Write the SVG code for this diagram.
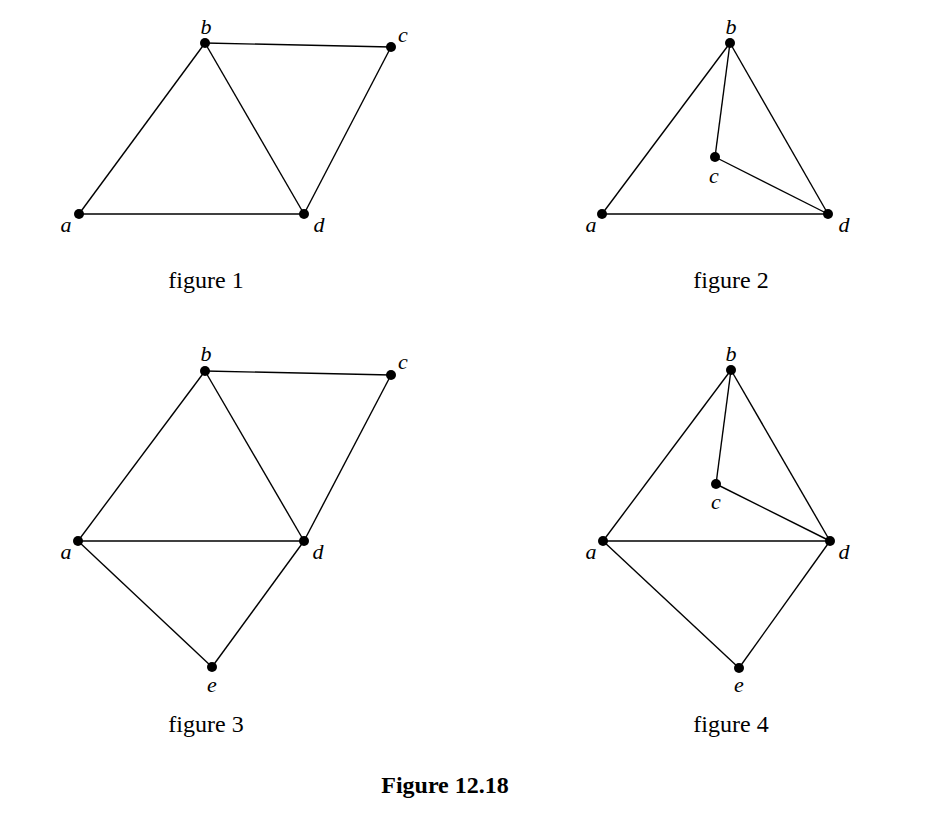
<svg xmlns="http://www.w3.org/2000/svg" width="932" height="824" viewBox="0 0 932 824">
<style>
.e{stroke:#000;stroke-width:1.4;fill:none}
.n{fill:#000}
.l{font-family:"Liberation Serif","Times New Roman",serif;font-style:italic;font-size:22px;fill:#000;text-anchor:middle}
.cap{font-family:"Liberation Serif","Times New Roman",serif;font-size:24px;fill:#000;text-anchor:middle}
.title{font-family:"Liberation Serif","Times New Roman",serif;font-weight:bold;font-size:24px;fill:#000;text-anchor:middle}
</style>
<rect width="932" height="824" fill="#fff"/>
<g id="connectors">
<!-- figure 1 -->
<line class="e" x1="205" y1="43" x2="391" y2="47"/>
<line class="e" x1="205" y1="43" x2="79" y2="214"/>
<line class="e" x1="205" y1="43" x2="304" y2="214"/>
<line class="e" x1="391" y1="47" x2="304" y2="214"/>
<line class="e" x1="79" y1="214" x2="304" y2="214"/>
<!-- figure 2 -->
<line class="e" x1="730" y1="43" x2="602" y2="214"/>
<line class="e" x1="730" y1="43" x2="715" y2="157"/>
<line class="e" x1="730" y1="43" x2="828" y2="214"/>
<line class="e" x1="715" y1="157" x2="828" y2="214"/>
<line class="e" x1="602" y1="214" x2="828" y2="214"/>
<!-- figure 3 -->
<line class="e" x1="205" y1="371" x2="391" y2="375"/>
<line class="e" x1="205" y1="371" x2="78" y2="541"/>
<line class="e" x1="205" y1="371" x2="304" y2="541"/>
<line class="e" x1="391" y1="375" x2="304" y2="541"/>
<line class="e" x1="78" y1="541" x2="304" y2="541"/>
<line class="e" x1="78" y1="541" x2="212" y2="667"/>
<line class="e" x1="304" y1="541" x2="212" y2="667"/>
<!-- figure 4 -->
<line class="e" x1="731" y1="370" x2="603" y2="541"/>
<line class="e" x1="731" y1="370" x2="716" y2="484"/>
<line class="e" x1="731" y1="370" x2="830" y2="541"/>
<line class="e" x1="716" y1="484" x2="830" y2="541"/>
<line class="e" x1="603" y1="541" x2="830" y2="541"/>
<line class="e" x1="603" y1="541" x2="739" y2="668"/>
<line class="e" x1="830" y1="541" x2="739" y2="668"/>
</g>
<!-- figure 1 nodes -->
<g id="f1-a"><circle class="n" cx="79" cy="214" r="5"/><text class="l" x="66" y="232">a</text></g>
<g id="f1-b"><circle class="n" cx="205" cy="43" r="5"/><text class="l" x="206" y="34">b</text></g>
<g id="f1-c"><circle class="n" cx="391" cy="47" r="5"/><text class="l" x="403" y="42">c</text></g>
<g id="f1-d"><circle class="n" cx="304" cy="214" r="5"/><text class="l" x="319" y="232">d</text></g>
<!-- figure 2 nodes -->
<g id="f2-a"><circle class="n" cx="602" cy="214" r="5"/><text class="l" x="591" y="232">a</text></g>
<g id="f2-b"><circle class="n" cx="730" cy="43" r="5"/><text class="l" x="731" y="34">b</text></g>
<g id="f2-c"><circle class="n" cx="715" cy="157" r="5"/><text class="l" x="714" y="183">c</text></g>
<g id="f2-d"><circle class="n" cx="828" cy="214" r="5"/><text class="l" x="844" y="232">d</text></g>
<!-- figure 3 nodes -->
<g id="f3-a"><circle class="n" cx="78" cy="541" r="5"/><text class="l" x="66" y="559">a</text></g>
<g id="f3-b"><circle class="n" cx="205" cy="371" r="5"/><text class="l" x="206" y="361">b</text></g>
<g id="f3-c"><circle class="n" cx="391" cy="375" r="5"/><text class="l" x="403" y="369">c</text></g>
<g id="f3-d"><circle class="n" cx="304" cy="541" r="5"/><text class="l" x="318" y="559">d</text></g>
<g id="f3-e"><circle class="n" cx="212" cy="667" r="5"/><text class="l" x="212" y="692">e</text></g>
<!-- figure 4 nodes -->
<g id="f4-a"><circle class="n" cx="603" cy="541" r="5"/><text class="l" x="591" y="559">a</text></g>
<g id="f4-b"><circle class="n" cx="731" cy="370" r="5"/><text class="l" x="731" y="361">b</text></g>
<g id="f4-c"><circle class="n" cx="716" cy="484" r="5"/><text class="l" x="716" y="509">c</text></g>
<g id="f4-d"><circle class="n" cx="830" cy="541" r="5"/><text class="l" x="844" y="559">d</text></g>
<g id="f4-e"><circle class="n" cx="739" cy="668" r="5"/><text class="l" x="739" y="692">e</text></g>
<!-- captions -->
<text class="cap" x="206" y="288">figure 1</text>
<text class="cap" x="731" y="288">figure 2</text>
<text class="cap" x="206" y="732">figure 3</text>
<text class="cap" x="731" y="732">figure 4</text>
<text class="title" x="445" y="793">Figure 12.18</text>
</svg>
